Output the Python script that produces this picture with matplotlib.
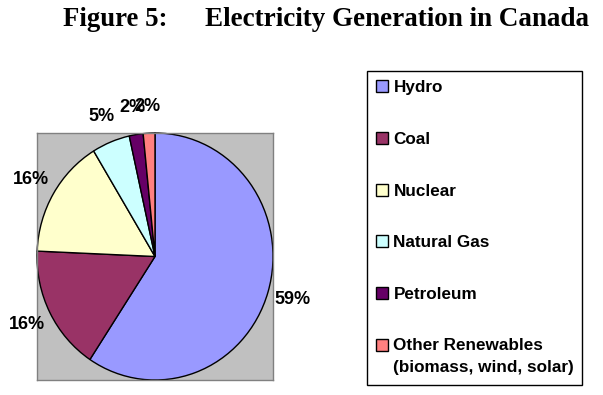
import matplotlib
matplotlib.use('Agg')
import matplotlib.pyplot as plt

# data
sources = ['Hydro', 'Coal', 'Nuclear', 'Natural Gas', 'Petroleum',
           'Other Renewables\n(biomass, wind, solar)']
shares = [59.3, 16.4, 15.6, 5.2, 1.9, 1.6]
colors = ['#9999ff', '#993366', '#ffffcc', '#ccffff', '#660066', '#ff8080']

W, H = 603, 395
fig = plt.figure(figsize=(W / 100, H / 100), dpi=100)

# title
fig.text(63 / W, 1 - 19 / H, 'Figure 5:', fontsize=19.3, fontweight='bold',
         family='Liberation Serif', ha='left', va='center')
fig.text(205 / W, 1 - 19 / H, 'Electricity Generation in Canada', fontsize=19.5,
         fontweight='bold', family='Liberation Serif', ha='left', va='center')

# pie in grey box
ax = fig.add_axes([37 / W, 1 - 380 / H, 236 / W, 247 / H])
wedges, texts, autotexts = ax.pie(
    shares, colors=colors, startangle=90, counterclock=False,
    autopct='%.0f%%', pctdistance=1.22, frame=True,
    wedgeprops=dict(edgecolor='black', linewidth=1.0),
    textprops=dict(fontsize=13, fontweight='bold', family='Liberation Sans'))
ax.set_aspect('auto')
ax.set_xlim(-1.0, 1.0)
ax.set_ylim(-1.0, 1.0)
ax.set_facecolor('#c0c0c0')
ax.set_xticks([])
ax.set_yticks([])
for s in ax.spines.values():
    s.set_color('#808080')
    s.set_linewidth(1.0)

# legend
leg = fig.legend(wedges, sources, loc='upper left',
                 bbox_to_anchor=(367 / W, 0, 215 / W, 1 - 71 / H), mode='expand',
                 prop=dict(size=12.3, weight='bold', family='Liberation Sans'),
                 labelspacing=2.14, handlelength=0.7, handleheight=0.7,
                 handletextpad=0.3, borderpad=0.55, borderaxespad=0,
                 fancybox=False, edgecolor='black', framealpha=1)
leg.get_frame().set_linewidth(1.0)
for t in leg.get_texts():
    t.set_linespacing(1.6)
# put the marker of the two-line entry next to its first line (units: points)
h = leg.legend_handles[-1]
h.set_y(h.get_y() + 8.5)

plt.savefig('out.png', dpi=100)
